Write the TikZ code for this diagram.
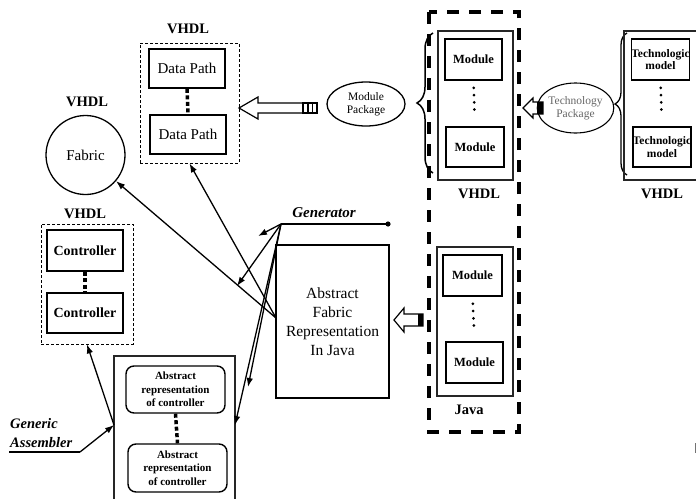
\documentclass[tikz,border=0pt]{standalone}
\usepackage{fontspec}
\setmainfont{Liberation Serif}
\usetikzlibrary{arrows.meta,decorations.pathreplacing,shapes.geometric}
\tikzset{
  lbl/.style={font=\bfseries\fontsize{14.5}{17}\selectfont, inner sep=0pt},
  thickbox/.style={draw, line width=1.8pt, inner sep=0pt},
  thinframe/.style={draw, line width=1.4pt, black!85, inner sep=0pt},
  dashframe/.style={draw, line width=0.8pt, dash pattern=on 3pt off 2pt, inner sep=0pt},
  rbox/.style={draw, line width=1.4pt, rounded corners=8pt, inner sep=0pt, align=center,
    font=\bfseries\fontsize{11}{13.5}\selectfont},
  modbox/.style={draw, line width=1.6pt, inner sep=0pt, align=center,
    font=\bfseries\fontsize{12.5}{14}\selectfont},
  techbox/.style={modbox, font=\bfseries\fontsize{11.5}{12.5}\selectfont},
  sqdots/.style={line width=3.5pt, dash pattern=on 4pt off 2.5pt},
  rddots/.style={line width=3pt, line cap=round, dash pattern=on 0pt off 7.25pt, shorten <=7pt, shorten >=11pt},
  conn/.style={line width=1.3pt, -{Latex[length=9pt,width=6.5pt]}},
  hollow/.style={draw, line width=1.2pt, fill=white, line join=miter},
  pkg/.style={draw, ellipse, line width=1.3pt, inner sep=0pt, align=center,
    font=\fontsize{11.5}{13.5}\selectfont},
}
\begin{document}
\begin{tikzpicture}[x=1pt,y=-1pt]
\useasboundingbox (0,0) rectangle (696,498);

% ---------- Data path (VHDL) ----------
\node[lbl] (vdp) at (188,29) {VHDL};
\node[dashframe, minimum width=99pt, minimum height=120pt] (dpframe) at (189.5,103) {};
\node[thickbox, minimum width=76pt, minimum height=39pt, font=\fontsize{15}{18}\selectfont] (dp1) at (187,68.5) {Data Path};
\node[thickbox, minimum width=76pt, minimum height=39pt, font=\fontsize{15}{18}\selectfont] (dp2) at (188,134.5) {Data Path};
\draw[sqdots] (dp1.south) -- (dp2.north);

% ---------- Fabric ----------
\node[lbl] (vfab) at (87,102) {VHDL};
\node[draw, circle, line width=1.3pt, minimum size=79pt, inner sep=0pt, font=\fontsize{15}{18}\selectfont] (fab) at (85.5,155) {Fabric};

% ---------- Controller (VHDL) ----------
\node[lbl] (vctl) at (85,214) {VHDL};
\node[dashframe, minimum width=92pt, minimum height=120pt] (ctrlframe) at (87,284) {};
\node[thickbox, minimum width=76pt, minimum height=41pt, font=\bfseries\fontsize{14}{17}\selectfont] (c1) at (85,250.5) {Controller};
\node[thickbox, minimum width=76pt, minimum height=40pt, font=\bfseries\fontsize{14}{17}\selectfont] (c2) at (85,313) {Controller};
\draw[sqdots] (c1.south) -- (c2.north);

% ---------- Generic assembler ----------
\node[thinframe, minimum width=121pt, minimum height=154pt] (asm) at (174.5,433) {};
\node[rbox, minimum width=99pt, minimum height=47pt] (ar1) at (175.5,389.5) {Abstract\\representation\\of controller};
\node[rbox, minimum width=99pt, minimum height=48pt] (ar2) at (177.5,468) {Abstract\\representation\\of controller};
\draw[sqdots] (ar1.south) -- (ar2.north);
\coordinate (asmL) at (114,425);
\coordinate (asmR) at (235,425);
\node[font=\bfseries\itshape\fontsize{14.5}{19}\selectfont, align=left, anchor=west, inner sep=0pt] (ga) at (10,433.5) {Generic\\Assembler};
\coordinate (gaL) at (9,452);
\coordinate (gaR) at (80,452);
\draw[line width=1.3pt] (gaL) -- (gaR);
\draw[conn] (gaR) -- (asmL);
\draw[conn] (asmL) -- (ctrlframe.south);

% ---------- Abstract fabric representation ----------
\node[draw, line width=1.2pt, minimum width=113pt, minimum height=153pt, inner sep=0pt, align=center,
  font=\fontsize{15.5}{19}\selectfont] (afr) at (332.5,321.5) {Abstract\\Fabric\\Representation\\In Java};
\coordinate (src) at (276,318);
\draw[conn] (src) -- (fab);
\draw[conn] (src) -- (dpframe.south);

% ---------- Generator ----------
\node[font=\bfseries\itshape\fontsize{15}{18}\selectfont, inner sep=0pt] (gen) at (324,213) {Generator};
\coordinate (G) at (281,224);
\coordinate (Gend) at (388,224);
\draw[line width=1.3pt] (G) -- (Gend);
\fill (Gend) circle (2.6pt);
\coordinate (g1) at (258,236);
\coordinate (g2) at (237,286);
\coordinate (g3) at (248,387);
\draw[conn] (G) -- (g1);
\draw[conn] (G) -- (g2);
\draw[conn] (G) -- (g3);
\draw[conn] (G) -- (asmR);

% ---------- Module package ----------
\draw[hollow] (239,108) -- (258,97) -- (258,103) -- (303,103) -- (303,113) -- (258,113) -- (258,119) -- cycle;
\draw[line width=1.2pt] (303,103) rectangle (317,113);
\draw[line width=1.2pt] (308,103) -- (308,113) (312.5,103) -- (312.5,113);
\node[pkg, minimum width=78pt, minimum height=44pt] (mp) at (366,104) {Module\\Package};
\draw[line width=1.5pt, decorate, decoration={brace, amplitude=16pt}] (433,173) -- (433,33);

% ---------- Big dashed box ----------
\draw[line width=4pt, dash pattern=on 12pt off 10pt] (429,12) rectangle (519,432);

% ---------- VHDL modules ----------
\node[thinframe, minimum width=75pt, minimum height=149pt] (vmf) at (475.5,105.5) {};
\node[modbox, minimum width=57pt, minimum height=41pt] (m1) at (473.5,59.5) {Module};
\node[modbox, minimum width=58pt, minimum height=40pt] (m2) at (475,147) {Module};
\draw[rddots] (m1.south) -- (m2.north);
\node[lbl] (vmod) at (479,194) {VHDL};

% ---------- Java modules ----------
\node[thinframe, minimum width=76pt, minimum height=149pt] (jmf) at (475,321.5) {};
\node[modbox, minimum width=59pt, minimum height=41pt] (jm1) at (472.5,275.5) {Module};
\node[modbox, minimum width=57pt, minimum height=41pt] (jm2) at (474.5,362.5) {Module};
\draw[rddots] (jm1.south) -- (jm2.north);
\node[lbl] (vjava) at (469,410) {Java};
\draw[hollow] (394,320) -- (404,308) -- (404,314) -- (423,314) -- (423,326) -- (404,326) -- (404,332) -- cycle;
\fill (418,314) rectangle (423,326);

% ---------- Technology package ----------
\draw[hollow] (523,108) -- (533,98) -- (533,102) -- (543,102) -- (543,114) -- (533,114) -- (533,118) -- cycle;
\fill (537,102) rectangle (543,114);
\node[pkg, minimum width=63pt, minimum height=50pt, line width=1.1pt, text=black!60] (tp) at (575.5,108) {Technology\\Package};
\draw[line width=1.3pt, decorate, decoration={brace, amplitude=12pt}] (627,175) -- (627,33);
\node[thinframe, minimum width=86pt, minimum height=149pt] (tf) at (667,105.5) {};
\node[techbox, minimum width=57pt, minimum height=41pt] (t1) at (660.5,59.5) {Technologic\\model};
\node[techbox, minimum width=58pt, minimum height=40pt] (t2) at (662,147) {Technologic\\model};
\draw[rddots] (t1.south) -- (t2.north);
\node[lbl] (vtech) at (662,194) {VHDL};

% ---------- stray mark at right edge ----------
\draw[line width=1pt, black!55] (695,443) -- (695,453);
\end{tikzpicture}
\end{document}
